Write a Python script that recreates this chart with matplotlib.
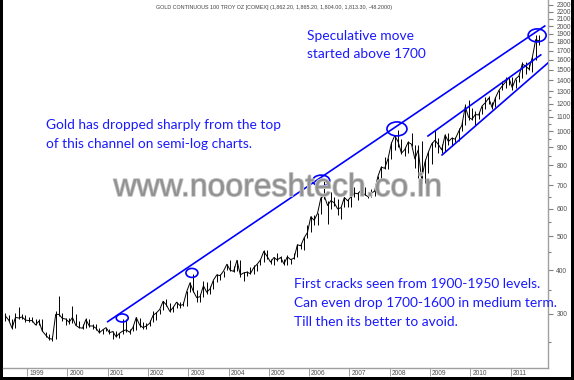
import matplotlib
matplotlib.use('Agg')
import matplotlib.pyplot as plt
from matplotlib.patches import Ellipse, Rectangle
from matplotlib.transforms import ScaledTranslation
import matplotlib.patheffects as pe

# ---------------- data (monthly bars, Jun 1998 .. Sep 2011) ----------------
start_year = 1998
start_month = 6
close = [296, 288, 273, 293, 292, 294, 288,
         287, 287, 279, 286, 268, 261, 255, 254, 299, 299, 291, 290,
         284, 293, 278, 274, 273, 289, 277, 277, 273, 265, 270, 274,
         265, 267, 258, 264, 268, 270, 266, 274, 293, 279, 274, 277,
         282, 297, 302, 309, 326, 318, 305, 313, 324, 317, 319, 347,
         368, 348, 334, 336, 361, 346, 354, 375, 388, 386, 398, 416,
         400, 397, 427, 388, 393, 395, 391, 407, 416, 428, 453, 438,
         422, 435, 428, 435, 417, 437, 429, 433, 473, 470, 495, 513,
         569, 556, 582, 644, 653, 613, 633, 623, 599, 604, 646, 632,
         650, 665, 662, 678, 659, 650, 665, 673, 743, 789, 783, 834,
         923, 971, 933, 865, 886, 930, 918, 833, 884, 730, 815, 870,
         919, 942, 916, 884, 975, 934, 955, 949, 996, 1040, 1175, 1096,
         1081, 1116, 1113, 1180, 1207, 1244, 1169, 1246, 1307, 1346, 1383, 1421,
         1333, 1411, 1439, 1556, 1536, 1505, 1628, 1829, 1813]
high = [301, 298, 290, 301, 313, 300, 298,
        293, 294, 290, 290, 290, 266, 263, 260, 305, 338, 301, 292,
        292, 316, 299, 286, 280, 292, 291, 281, 280, 274, 271, 274,
        272, 268, 268, 265, 291, 290, 271, 278, 294, 292, 284, 282,
        288, 305, 303, 310, 327, 331, 322, 316, 324, 325, 325, 349,
        369, 389, 352, 341, 372, 371, 360, 376, 390, 389, 399, 417,
        427, 411, 428, 427, 395, 399, 409, 415, 416, 431, 456, 456,
        430, 437, 447, 439, 432, 442, 430, 448, 475, 476, 497, 538,
        570, 574, 584, 654, 720, 633, 670, 646, 640, 606, 650, 640,
        652, 690, 670, 693, 690, 670, 683, 680, 745, 793, 845, 836,
        932, 975, 1010, 951, 902, 940, 988, 914, 912, 935, 830, 880,
        930, 1007, 955, 920, 980, 987, 960, 963, 1020, 1070, 1195, 1226,
        1162, 1140, 1135, 1180, 1249, 1265, 1212, 1250, 1315, 1388, 1425, 1432,
        1425, 1415, 1447, 1575, 1577, 1555, 1632, 1890, 1880]
low = [286, 286, 271, 273, 290, 290, 285,
       285, 285, 278, 279, 268, 257, 252, 251, 254, 296, 287, 278,
       281, 282, 278, 273, 271, 273, 276, 271, 270, 264, 263, 268,
       263, 255, 257, 256, 263, 267, 263, 268, 270, 276, 272, 272,
       277, 285, 288, 300, 307, 316, 304, 303, 311, 312, 315, 317,
       346, 346, 324, 325, 336, 342, 341, 354, 370, 375, 383, 401,
       399, 395, 398, 382, 373, 386, 389, 390, 399, 414, 423, 431,
       418, 415, 425, 423, 415, 415, 417, 430, 436, 460, 458, 494,
       516, 540, 538, 580, 638, 543, 600, 612, 575, 560, 605, 606,
       605, 650, 636, 660, 655, 642, 647, 653, 671, 722, 780, 780,
       835, 885, 900, 860, 850, 865, 910, 786, 736, 705, 710, 760,
       805, 902, 865, 865, 880, 915, 905, 930, 940, 1000, 1040, 1075,
       1075, 1045, 1085, 1120, 1160, 1200, 1155, 1175, 1240, 1310, 1330, 1360,
       1310, 1330, 1380, 1420, 1462, 1495, 1480, 1600, 1760]

years = list(range(1999, 2012))
y_major = [300, 400, 500, 600, 700, 800, 900, 1000, 1100, 1200, 1300, 1400,
           1500, 1600, 1700, 1800, 1900, 2000, 2100, 2200, 2300]
y_minor = [250, 350, 450, 550, 650, 750, 850, 950, 1050, 1150, 1250]

# trend lines (date in years, price)
main_line_x = [2001.0, 2011.85]
main_line_y = [285, 2000]
chan_up_x = [2008.95, 2011.75]
chan_up_y = [969, 1653]
chan_lo_x = [2009.30, 2011.93]
chan_lo_y = [855, 1568]

# touch circles: (date, price, width px, height px)
circ_x = [2001.36, 2003.09, 2006.30, 2008.18, 2011.66]
circ_y = [292, 393, 722, 1015, 1880]
circ_w = [12, 12, 17, 20, 18]
circ_h = [8, 9, 11, 14, 13]

title = "GOLD CONTINUOUS 100 TROY OZ [COMEX] (1,862.20, 1,865.20, 1,804.00, 1,813.30, -48.2000)"
note_top = ["Speculative move", "started above 1700"]
note_left = ["Gold has dropped sharply from the top", "of this channel on semi-log charts."]
note_bottom = ["First cracks seen from 1900-1950 levels.",
               "Can even drop 1700-1600 in medium term.",
               "Till then its better to avoid."]
watermark = "www.nooreshtech.co.in"

# ---------------- figure ----------------
W, H = 574, 380
fig = plt.figure(figsize=(W / 100, H / 100), dpi=100)
fig.patch.set_facecolor('black')
fig.patches.append(Rectangle((3 / W, 3 / H), 568 / W, 377 / H, transform=fig.transFigure,
                             facecolor='white', edgecolor='none', zorder=-5))

ax = fig.add_axes([3 / W, 12 / H, 545 / W, 368 / H])
ax.set_zorder(1)
ax.patch.set_alpha(0)

xs = [start_year + (start_month - 1 + i + 0.5) / 12 for i in range(len(close))]
ax.vlines(xs, low, high, color='black', lw=0.7, zorder=3)
ax.plot(xs, close, color='black', lw=0.7, zorder=3)

blue = '#0000ff'
ax.plot(main_line_x, main_line_y, color=blue, lw=1.2, zorder=4)
ax.plot(chan_up_x, chan_up_y, color=blue, lw=1.2, zorder=4)
ax.plot(chan_lo_x, chan_lo_y, color=blue, lw=1.2, zorder=4)
for cx, cy, w, h in zip(circ_x, circ_y, circ_w, circ_h):
    e = Ellipse((0, 0), w / 100, h / 100, fill=False, edgecolor=blue, lw=1.2,
                transform=fig.dpi_scale_trans + ScaledTranslation(cx, cy, ax.transData),
                zorder=5)
    ax.add_artist(e)

ax.set_yscale('log')
ax.set_ylim(210, 2374)
ax.set_xlim(1998.40, 2011.93)

for s in ['top', 'left']:
    ax.spines[s].set_visible(False)
for s in ['right', 'bottom']:
    ax.spines[s].set_color('#a0a0a0')
    ax.spines[s].set_linewidth(1.0)

small = ['Liberation Sans', 'DejaVu Sans']
ax.yaxis.tick_right()
ax.set_yticks(y_major)
ax.set_yticklabels([str(v) for v in y_major], family=small)
ax.set_yticks(y_minor, minor=True)
ax.yaxis.set_minor_formatter(plt.NullFormatter())
ax.tick_params(axis='y', which='major', length=3.5, width=0.8, color='#808080',
               labelsize=4.8, labelcolor='#505050', pad=2.5)
ax.tick_params(axis='y', which='minor', length=2, width=0.8, color='#808080')

ax.set_xticks(years)
ax.set_xticklabels([])
ax.tick_params(axis='x', which='major', length=5.8, width=0.7, color='#a0a0a0')
ax.tick_params(axis='x', which='minor', bottom=False)
for yr in years:
    ax.annotate(str(yr), xy=(yr, 0), xycoords=('data', 'axes fraction'),
                xytext=(1.5, -3.8), textcoords='offset points', ha='left', va='center',
                fontsize=4.8, color='#505050', family=small, annotation_clip=False)

fig.text(274 / W, 1 - 8 / H, title, ha='center', va='center', fontsize=3.9,
         color='#404040', family=small)

tfont = dict(family=['Lato', 'DejaVu Sans'], fontsize=9.9, color='#1a1aff', zorder=20)
for i, s in enumerate(note_top):
    fig.text(307 / W, 1 - (36 + 18.5 * i) / H, s, ha='left', va='center', **tfont)
for i, s in enumerate(note_left):
    fig.text(46 / W, 1 - (125 + 18.5 * i) / H, s, ha='left', va='center', **tfont)
for i, s in enumerate(note_bottom):
    fig.text(294 / W, 1 - (284 + 18.8 * i) / H, s, ha='left', va='center', **tfont)

fig.text(278 / W, 1 - 188 / H, watermark, ha='center', va='center', fontsize=23,
         family=['Liberation Sans', 'DejaVu Sans'], color='#929292', zorder=20,
         path_effects=[pe.withStroke(linewidth=1.2, foreground='#c8c8c8')])

fig.savefig('out.png', dpi=100, facecolor=fig.get_facecolor())
